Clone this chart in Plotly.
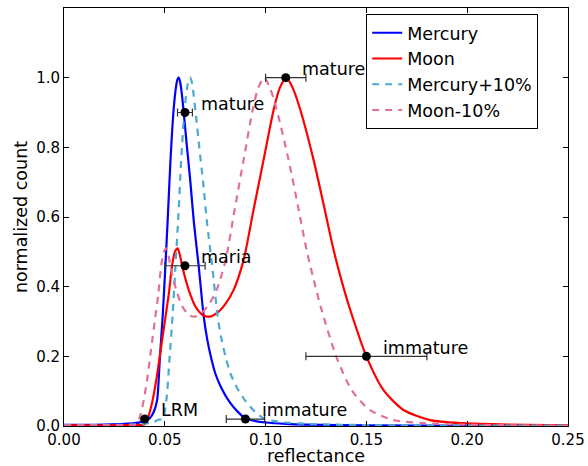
import plotly.graph_objects as go

# ---- data ----
mercury_x = [0.000, 0.010, 0.020, 0.030, 0.035, 0.040, 0.0425, 0.0445, 0.0462, 0.0475,
             0.049, 0.0503, 0.0515, 0.0528, 0.0544, 0.0556, 0.0563, 0.0569, 0.0575, 0.0581,
             0.0594, 0.0610, 0.0627, 0.0645, 0.0668, 0.0693, 0.0710, 0.0730, 0.0751, 0.0780,
             0.0820, 0.0860, 0.0900, 0.0950, 0.100, 0.110, 0.120, 0.150, 0.200, 0.250]
mercury_y = [0.003, 0.003, 0.004, 0.006, 0.008, 0.014, 0.022, 0.040, 0.075, 0.19,
             0.32, 0.46, 0.60, 0.76, 0.91, 0.975, 0.995, 1.00, 0.99, 0.97,
             0.90, 0.80, 0.70, 0.58, 0.46, 0.315, 0.25, 0.195, 0.15, 0.11,
             0.07, 0.042, 0.022, 0.014, 0.010, 0.006, 0.004, 0.002, 0.001, 0.001]

mercury10_x = [0.000, 0.011, 0.022, 0.033, 0.0385, 0.044, 0.0468, 0.0490, 0.0508, 0.0523,
               0.0539, 0.0553, 0.0567, 0.0581, 0.0598, 0.0612, 0.0619, 0.0626, 0.0633, 0.0639,
               0.0653, 0.0671, 0.0690, 0.0710, 0.0735, 0.0762, 0.0781, 0.0803, 0.0826, 0.0858,
               0.0902, 0.0946, 0.0990, 0.1045, 0.110, 0.121, 0.132, 0.165, 0.220, 0.250]
mercury10_y = [0.002, 0.002, 0.003, 0.004, 0.006, 0.010, 0.018, 0.022, 0.075, 0.19,
               0.32, 0.46, 0.60, 0.76, 0.91, 0.975, 0.995, 1.00, 0.99, 0.97,
               0.90, 0.80, 0.70, 0.58, 0.46, 0.315, 0.25, 0.195, 0.15, 0.11,
               0.07, 0.042, 0.022, 0.014, 0.010, 0.006, 0.004, 0.002, 0.001, 0.001]

moon_x = [0.000, 0.020, 0.035, 0.040, 0.042, 0.044, 0.046, 0.048, 0.050, 0.052,
          0.0536, 0.0550, 0.0564, 0.0575, 0.0590, 0.0619, 0.0652, 0.0690, 0.0722, 0.0760,
          0.0800, 0.0841, 0.0891, 0.0940, 0.0990, 0.1040, 0.1070, 0.1103, 0.1135, 0.1172,
          0.1238, 0.1290, 0.1337, 0.1385, 0.1420, 0.1500, 0.1585, 0.1684, 0.1816, 0.1980,
          0.2200, 0.2500]
moon_y = [0.002, 0.002, 0.003, 0.005, 0.030, 0.075, 0.14, 0.22, 0.30, 0.38,
          0.46, 0.50, 0.51, 0.49, 0.45, 0.39, 0.343, 0.318, 0.314, 0.325,
          0.35, 0.39, 0.477, 0.62, 0.764, 0.908, 0.97, 1.00, 0.97, 0.908,
          0.764, 0.63, 0.506, 0.40, 0.333, 0.20, 0.103, 0.046, 0.017, 0.008,
          0.004, 0.002]

moon10_x = [0.000, 0.018, 0.0315, 0.036, 0.0378, 0.0396, 0.0414, 0.0432, 0.0450, 0.0468,
            0.0482, 0.0495, 0.0508, 0.0518, 0.0531, 0.0557, 0.0587, 0.0621, 0.0650, 0.0684,
            0.0720, 0.0757, 0.0802, 0.0846, 0.0891, 0.0936, 0.0963, 0.0993, 0.1022, 0.1055,
            0.1114, 0.1161, 0.1203, 0.1247, 0.1278, 0.1350, 0.1427, 0.1516, 0.1634, 0.1782,
            0.1980, 0.2250, 0.2500]
moon10_y = [0.002, 0.002, 0.003, 0.005, 0.030, 0.075, 0.14, 0.22, 0.30, 0.38,
            0.46, 0.50, 0.51, 0.49, 0.45, 0.39, 0.343, 0.318, 0.314, 0.325,
            0.35, 0.39, 0.477, 0.62, 0.764, 0.908, 0.97, 1.00, 0.97, 0.908,
            0.764, 0.63, 0.506, 0.40, 0.333, 0.20, 0.103, 0.046, 0.017, 0.008,
            0.004, 0.002, 0.001]

point_x = [0.040, 0.060, 0.060, 0.110, 0.150, 0.090]
point_y = [0.020, 0.900, 0.460, 1.000, 0.200, 0.020]
point_err = [0.0, 0.0037, 0.010, 0.010, 0.030, 0.0095]
point_labels = ["LRM", "mature", "maria", "mature", "immature", "immature"]

x_ticks = [0.00, 0.05, 0.10, 0.15, 0.20, 0.25]
x_tick_text = ["0.00", "0.05", "0.10", "0.15", "0.20", "0.25"]
y_ticks = [0.0, 0.2, 0.4, 0.6, 0.8, 1.0]
y_tick_text = ["0.0", "0.2", "0.4", "0.6", "0.8", "1.0"]

FONT = "DejaVu Sans"
LABEL_SIZE = 17.5

fig = go.Figure()

def curve(x, y, name, color, dash, group):
    fig.add_trace(go.Scatter(
        x=x, y=y, mode="lines", name=name, legendgroup=group,
        line=dict(color=color, width=2.2, dash=dash, shape="spline", smoothing=0.7),
    ))

curve(mercury_x, mercury_y, "Mercury", "#0000ff", "solid", "g1")
curve(moon_x, moon_y, "Moon", "#ff0000", "solid", "g2")
curve(mercury10_x, mercury10_y, "Mercury+10%", "#4aabcf", "7px,6px", "g3")
curve(moon10_x, moon10_y, "Moon-10%", "#e0709a", "7px,6px", "g4")

fig.add_trace(go.Scatter(
    x=point_x, y=point_y, mode="markers", showlegend=False,
    marker=dict(color="black", size=9),
    error_x=dict(type="data", array=point_err, visible=True, color="#333333",
                 thickness=1.2, width=4),
))

for px, py, lab in zip(point_x, point_y, point_labels):
    fig.add_annotation(x=px + 0.0072, y=py + 0.025, text=lab, showarrow=False,
                       xanchor="left", yanchor="middle",
                       font=dict(family=FONT, size=LABEL_SIZE, color="black"))

common = dict(ticks="inside", ticklen=5, tickcolor="black", mirror="allticks",
              showline=True, linecolor="black", linewidth=1, showgrid=False,
              zeroline=False, automargin=False, ticklabeloverflow="allow",
              tickfont=dict(family=FONT, size=15, color="black"))

fig.update_xaxes(range=[0, 0.25], tickvals=x_ticks, ticktext=x_tick_text,
                 title=dict(text="reflectance", standoff=3,
                            font=dict(family=FONT, size=LABEL_SIZE, color="black")),
                 **common)
fig.update_yaxes(range=[0, 1.2], tickvals=y_ticks, ticktext=y_tick_text,
                 title=dict(text="normalized count", standoff=4,
                            font=dict(family=FONT, size=LABEL_SIZE, color="black")),
                 **common)

fig.update_layout(
    width=588, height=466,
    margin=dict(l=63.5, r=20, t=8, b=40),
    paper_bgcolor="white", plot_bgcolor="white",
    font=dict(family=FONT, color="black"),
    legend=dict(x=0.5996, y=0.986, xanchor="left", yanchor="top",
                bgcolor="white", bordercolor="black", borderwidth=1,
                font=dict(family=FONT, size=LABEL_SIZE, color="black"),
                tracegroupgap=0, itemwidth=30),
)

# remove the default 8px page margin so the figure sits at the window's corner
fig.write_html("out.html",
               config={"displayModeBar": False},
               post_script="document.body.style.margin='0';"
                           "document.body.style.overflow='hidden';")
